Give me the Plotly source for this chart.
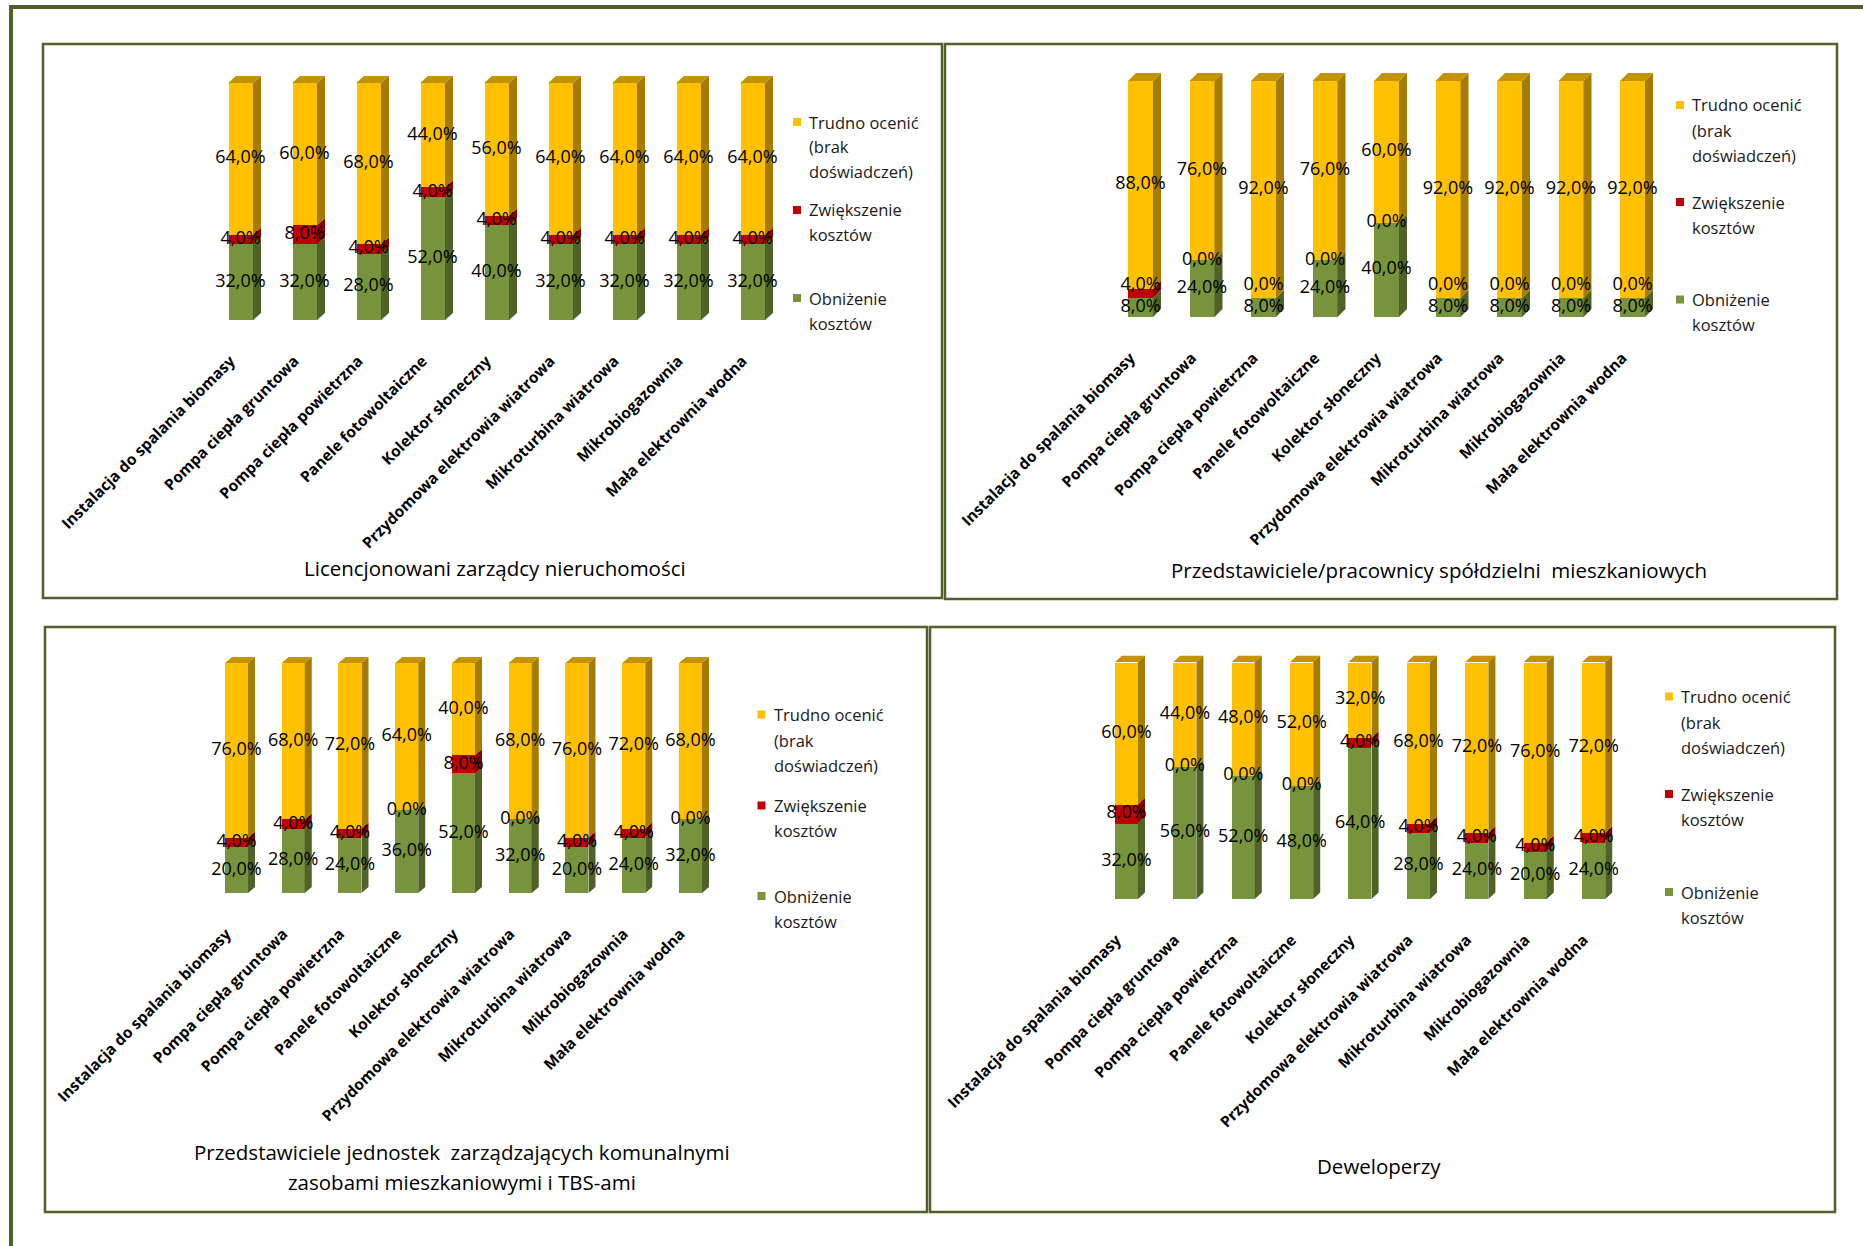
import plotly.graph_objects as go

W, H = 1863, 1246

# ---- data ---------------------------------------------------------------
categories = [
    "Instalacja do spalania biomasy",
    "Pompa ciepła gruntowa",
    "Pompa ciepła powietrzna",
    "Panele fotowoltaiczne",
    "Kolektor słoneczny",
    "Przydomowa elektrowia wiatrowa",
    "Mikroturbina wiatrowa",
    "Mikrobiogazownia",
    "Mała elektrownia wodna",
]

series_names = ["Obniżenie kosztów", "Zwiększenie kosztów", "Trudno ocenić (brak doświadczeń)"]
legend_lines = [["Trudno ocenić", "(brak", "doświadczeń)"],
                ["Zwiększenie", "kosztów"],
                ["Obniżenie", "kosztów"]]

titles = [
    ["Licencjonowani zarządcy nieruchomości"],
    ["Przedstawiciele/pracownicy spółdzielni\u00a0 mieszkaniowych"],
    ["Przedstawiciele jednostek\u00a0 zarządzających komunalnymi",
     "zasobami mieszkaniowymi i TBS-ami"],
    ["Deweloperzy"],
]

zarzadcy_obnizenie = [32, 32, 28, 52, 40, 32, 32, 32, 32]
zarzadcy_zwiekszenie = [4, 8, 4, 4, 4, 4, 4, 4, 4]
zarzadcy_trudno = [64, 60, 68, 44, 56, 64, 64, 64, 64]

spoldzielnie_obnizenie = [8, 24, 8, 24, 40, 8, 8, 8, 8]
spoldzielnie_zwiekszenie = [4, 0, 0, 0, 0, 0, 0, 0, 0]
spoldzielnie_trudno = [88, 76, 92, 76, 60, 92, 92, 92, 92]

komunalne_obnizenie = [20, 28, 24, 36, 52, 32, 20, 24, 32]
komunalne_zwiekszenie = [4, 4, 4, 0, 8, 0, 4, 4, 0]
komunalne_trudno = [76, 68, 72, 64, 40, 68, 76, 72, 68]

deweloperzy_obnizenie = [32, 56, 52, 48, 64, 28, 24, 20, 24]
deweloperzy_zwiekszenie = [8, 0, 0, 0, 4, 4, 4, 4, 4]
deweloperzy_trudno = [60, 44, 48, 52, 32, 68, 72, 76, 72]

panel_data = [
    [zarzadcy_obnizenie, zarzadcy_zwiekszenie, zarzadcy_trudno],
    [spoldzielnie_obnizenie, spoldzielnie_zwiekszenie, spoldzielnie_trudno],
    [komunalne_obnizenie, komunalne_zwiekszenie, komunalne_trudno],
    [deweloperzy_obnizenie, deweloperzy_zwiekszenie, deweloperzy_trudno],
]

# ---- styling --------------------------------------------------------------
FRONT = ["#77933C", "#C00000", "#FFC000"]
SIDE = ["#4F6228", "#8C0000", "#A67C00"]
CAP = "#C49400"
FRAME = "#4F6228"
FONT = "Open Sans"

# pixel geometry of each panel: frame box, first bar centre, bar pitch,
# bar front width, 3D depth, y of 0% and 100%, legend and title placement
panels = [
    dict(box=(43, 44, 942, 598), c0=240.5, pitch=64.0, bw=25, depth=8,
         y0=320, y100=83, cap=7,
         sq_x=793, tx=807, leg_y=[[122, 147, 172], [210, 234], [298, 323]],
         title_x=495, title_y=[568]),
    dict(box=(945, 44, 1837, 599), c0=1140.5, pitch=61.5, bw=25, depth=8,
         y0=317, y100=81, cap=8,
         sq_x=1676, tx=1690, leg_y=[[105, 130.5, 156], [202, 227.5], [299.5, 324.5]],
         title_x=1439, title_y=[570]),
    dict(box=(45, 627, 927, 1212), c0=236.5, pitch=56.75, bw=23, depth=7,
         y0=893, y100=663, cap=6,
         sq_x=757.5, tx=771.5, leg_y=[[714.5, 740, 765], [805.5, 830], [896, 921]],
         title_x=462, title_y=[1152, 1182]),
    dict(box=(930, 627, 1835, 1212), c0=1126.5, pitch=58.4, bw=23, depth=7,
         y0=899, y100=662, cap=6.5,
         sq_x=1665, tx=1679, leg_y=[[696.5, 722, 747.5], [794, 819], [892, 917]],
         title_x=1379, title_y=[1166]),
]


def px(x):
    return x / W


def py(y):
    return 1 - y / H


fig = go.Figure()
shapes = []
annotations = []
n = len(categories)
idx = list(range(n))

for k, (p, data) in enumerate(zip(panels, panel_data)):
    sfx = "" if k == 0 else str(k + 1)
    xa, ya = "x" + sfx, "y" + sfx
    per_pct = (p["y0"] - p["y100"]) / 100.0        # pixels per percent
    cap_u = p["cap"] / per_pct                      # 3D lift in data units
    w = p["bw"] / p["pitch"]                        # bar width in category units
    dx = p["depth"] / p["pitch"]

    # stacked front faces
    for s in range(3):
        fig.add_trace(go.Bar(
            x=idx, y=data[s], width=w, xaxis=xa, yaxis=ya,
            marker=dict(color=FRONT[s], line=dict(width=0)),
            name=series_names[s], showlegend=False, hoverinfo="skip"))

    # right-hand side faces of every stacked segment
    for s in range(3):
        xs, ys = [], []
        for i in idx:
            v = data[s][i]
            if v <= 0:
                continue
            lo = sum(data[t][i] for t in range(s))
            hi = lo + v
            xr = i + w / 2
            xs += [xr, xr + dx, xr + dx, xr, xr, None]
            ys += [lo, lo + cap_u, hi + cap_u, hi, lo, None]
        fig.add_trace(go.Scatter(
            x=xs, y=ys, xaxis=xa, yaxis=ya, mode="lines", fill="toself",
            fillcolor=SIDE[s], line=dict(width=0, color=SIDE[s]),
            showlegend=False, hoverinfo="skip"))

    # top caps
    xs, ys = [], []
    for i in idx:
        top = sum(data[t][i] for t in range(3))
        xl, xr = i - w / 2, i + w / 2
        xs += [xl, xl + dx, xr + dx, xr, xl, None]
        ys += [top, top + cap_u, top + cap_u, top, top, None]
    fig.add_trace(go.Scatter(
        x=xs, y=ys, xaxis=xa, yaxis=ya, mode="lines", fill="toself",
        fillcolor=CAP, line=dict(width=0, color=CAP),
        showlegend=False, hoverinfo="skip"))

    # value labels centred on each segment, pushed up when they would collide
    gap = 22 / per_pct
    lx, ly, lt = [], [], []
    for i in idx:
        lo = 0.0
        prev = None
        for s in range(3):
            v = data[s][i]
            mid = lo + v / 2
            if prev is not None and mid < prev + gap:
                mid = prev + gap
            prev = mid
            lx.append(i)
            ly.append(mid)
            lt.append(f"{v:.1f}".replace(".", ",") + "%")
            lo += v
    fig.add_trace(go.Scatter(
        x=lx, y=ly, text=lt, mode="text", xaxis=xa, yaxis=ya,
        textposition="middle center",
        textfont=dict(family=FONT, size=18, color="#000000"),
        showlegend=False, hoverinfo="skip"))

    left = p["c0"] - p["pitch"] / 2
    right = p["c0"] + (n - 0.5) * p["pitch"]
    fig.layout["xaxis" + sfx] = dict(
        domain=[px(left), px(right)], range=[-0.5, n - 0.5], anchor=ya,
        tickmode="array", tickvals=idx, ticktext=categories, tickangle=-45,
        tickfont=dict(family=FONT, size=15.5, color="#000000", weight="bold"),
        ticklabelstandoff=28, ticklabelshift=-10,
        showgrid=False, zeroline=False, showline=False, ticks="",
        automargin=False, fixedrange=True)
    fig.layout["yaxis" + sfx] = dict(
        domain=[py(p["y0"]), py(p["y100"] - p["cap"])], range=[0, 100 + cap_u],
        anchor=xa, visible=False, fixedrange=True)

    # panel frame
    x0, y0, x1, y1 = p["box"]
    shapes.append(dict(type="rect", xref="paper", yref="paper",
                       x0=px(x0), x1=px(x1), y0=py(y0), y1=py(y1),
                       line=dict(color=FRAME, width=2.5)))

    # legend: coloured keys plus wrapped series names
    for j, lines in enumerate(legend_lines):
        s = 2 - j
        yc = p["leg_y"][j][0]
        shapes.append(dict(type="rect", xref="paper", yref="paper",
                           x0=px(p["sq_x"]), x1=px(p["sq_x"] + 8),
                           y0=py(yc - 4), y1=py(yc + 4),
                           fillcolor=FRONT[s], line=dict(width=0)))
        for line_txt, yl in zip(lines, p["leg_y"][j]):
            annotations.append(dict(
                xref="paper", yref="paper", x=px(p["tx"]), y=py(yl),
                xanchor="left", yanchor="middle", showarrow=False, text=line_txt,
                font=dict(family=FONT, size=16.5, color="#1A1A1A")))

    # panel title
    for t_txt, t_y in zip(titles[k], p["title_y"]):
        annotations.append(dict(
            xref="paper", yref="paper", x=px(p["title_x"]), y=py(t_y),
            xanchor="center", yanchor="middle", showarrow=False, text=t_txt,
            font=dict(family=FONT, size=20.5, color="#000000")))

# outer page frame (top and left rules)
shapes.append(dict(type="line", xref="paper", yref="paper",
                   x0=px(9), x1=1, y0=py(7), y1=py(7),
                   line=dict(color=FRAME, width=4)))
shapes.append(dict(type="line", xref="paper", yref="paper",
                   x0=px(11), x1=px(11), y0=py(5), y1=0,
                   line=dict(color=FRAME, width=4)))

fig.update_layout(
    width=W, height=H, barmode="stack", bargap=0,
    margin=dict(l=0, r=0, t=0, b=0),
    paper_bgcolor="#FFFFFF", plot_bgcolor="rgba(0,0,0,0)",
    shapes=shapes, annotations=annotations, showlegend=False,
)

fig.write_html("out.html", config={"displayModeBar": False})
